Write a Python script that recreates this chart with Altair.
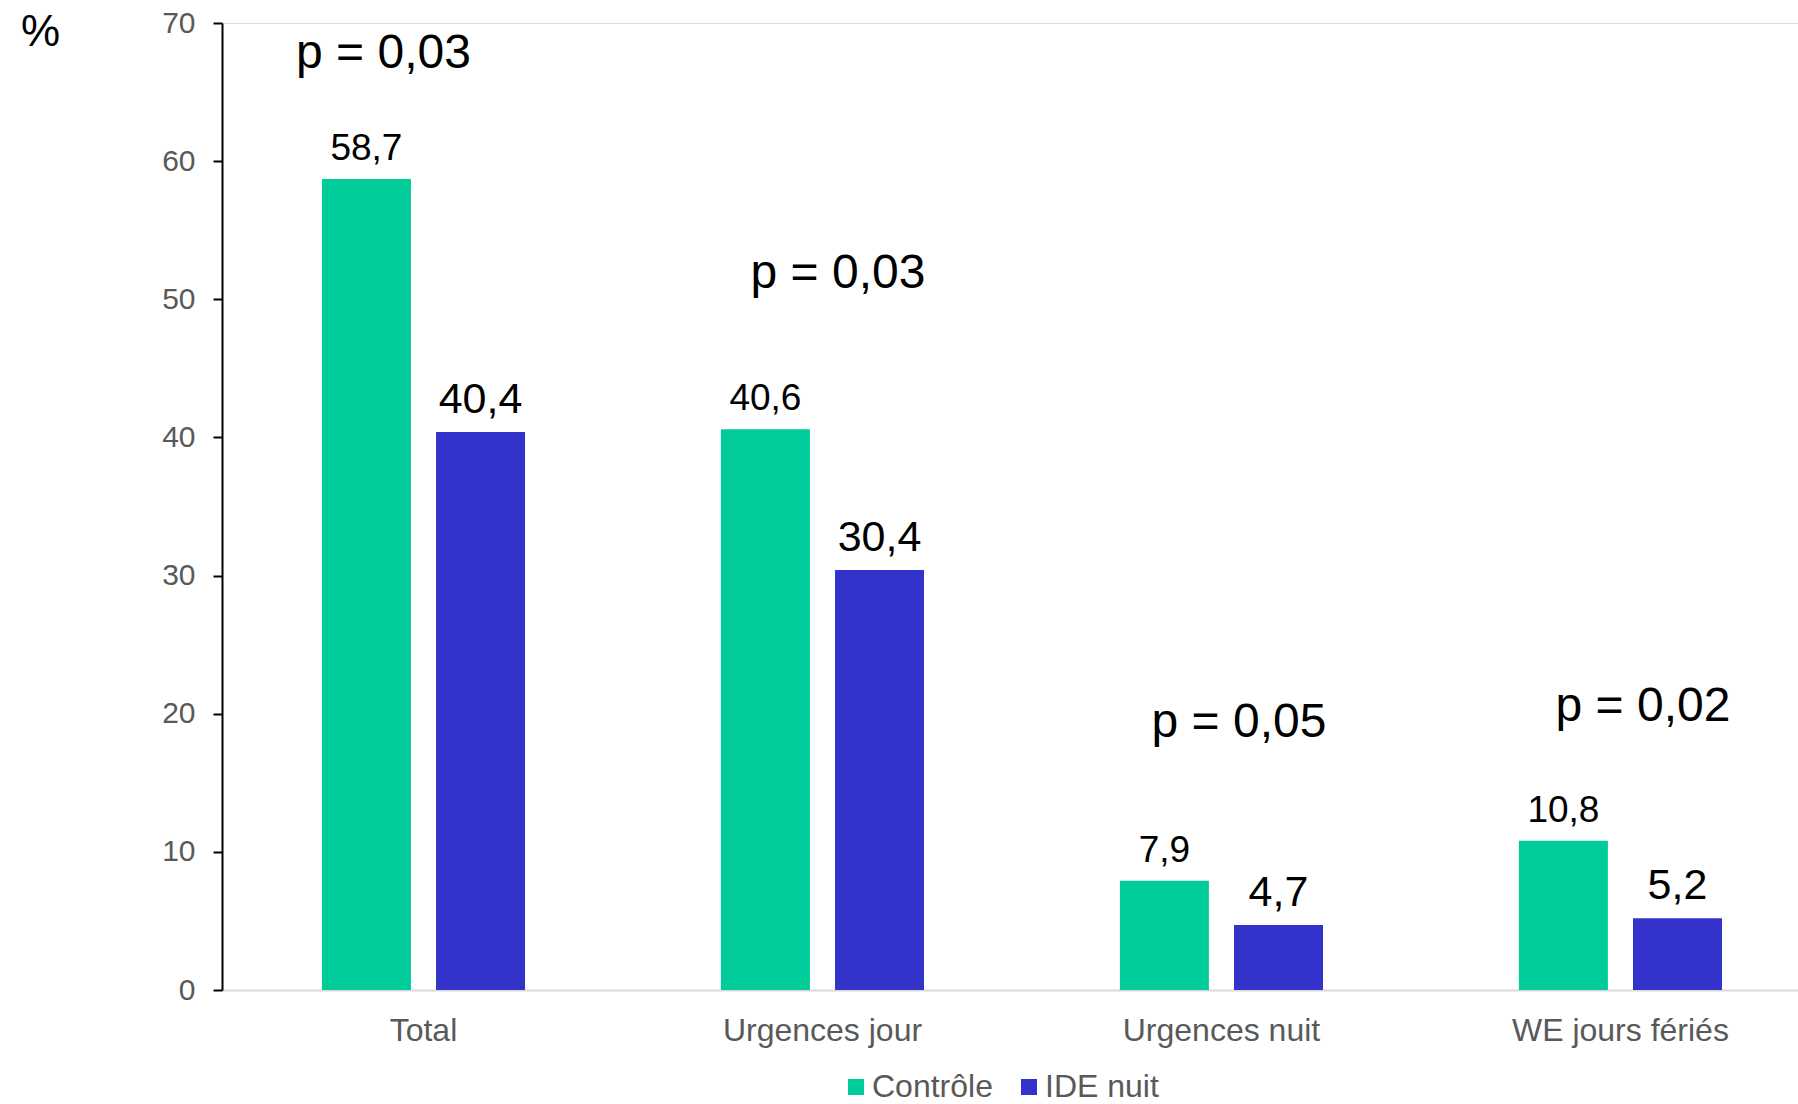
import altair as alt
import pandas as pd

# Data
categories = ["Total", "Urgences jour", "Urgences nuit", "WE jours fériés"]
groups = ["Contrôle", "IDE nuit"]
controle = [58.7, 40.6, 7.9, 10.8]
ide_nuit = [40.4, 30.4, 4.7, 5.2]
p_values = ["p = 0,03", "p = 0,03", "p = 0,05", "p = 0,02"]
colors = ["#00CC99", "#3333CC"]

rows = []
for cat, c, i in zip(categories, controle, ide_nuit):
    rows.append({"cat": cat, "group": groups[0], "value": c})
    rows.append({"cat": cat, "group": groups[1], "value": i})
df = pd.DataFrame(rows)
df["label"] = df["value"].map(lambda v: f"{v:.1f}".replace(".", ","))

FONT = "Liberation Sans"
PLOT_W, PLOT_H = 1576, 967

x_enc = alt.X(
    "cat:N",
    sort=categories,
    scale=alt.Scale(paddingInner=0.491, paddingOuter=0.2205, align=0.568),
    axis=alt.Axis(
        title=None,
        labelAngle=0,
        labelFontSize=32,
        labelColor="#595959",
        labelFont=FONT,
        labelPadding=25,
        labelLimit=0,
        ticks=False,
        domainColor="#D9D9D9",
        domainWidth=2,
    ),
)
xoff_enc = alt.XOffset("group:N", sort=groups, scale=alt.Scale(paddingInner=0.22, paddingOuter=0))
y_enc = alt.Y(
    "value:Q",
    scale=alt.Scale(domain=[0, 70], nice=False),
    axis=alt.Axis(
        title="%",
        titleAngle=0,
        titleFontSize=44,
        titleFontWeight="normal",
        titleColor="#000000",
        titleFont=FONT,
        titleX=-182,
        titleY=9,
        titleAlign="center",
        titleBaseline="middle",
        values=[0, 10, 20, 30, 40, 50, 60, 70],
        labelFontSize=30,
        labelColor="#595959",
        labelFont=FONT,
        labelPadding=18,
        tickSize=9,
        tickWidth=2,
        tickColor="#000000",
        domainColor="#000000",
        domainWidth=2,
        grid=False,
    ),
)

base = alt.Chart(df)

bars = base.mark_bar().encode(
    x=x_enc,
    xOffset=xoff_enc,
    y=y_enc,
    color=alt.Color(
        "group:N",
        sort=groups,
        scale=alt.Scale(domain=groups, range=colors),
        legend=alt.Legend(
            title=None,
            orient="none",
            legendX=618,
            legendY=1048,
            direction="horizontal",
            symbolType="square",
            symbolSize=256,
            symbolStrokeWidth=0,
            labelFontSize=32,
            labelColor="#595959",
            labelFont=FONT,
            labelOffset=0,
            columnPadding=20,
            padding=0,
        ),
    ),
)

labels_ctrl = base.transform_filter(alt.datum.group == groups[0]).mark_text(
    font=FONT, fontSize=37, color="#000000", baseline="alphabetic", dy=-19
).encode(x=x_enc, xOffset=xoff_enc, y=y_enc, text="label:N")

labels_ide = base.transform_filter(alt.datum.group == groups[1]).mark_text(
    font=FONT, fontSize=43, color="#000000", baseline="alphabetic", dy=-19
).encode(x=x_enc, xOffset=xoff_enc, y=y_enc, text="label:N")

# p-value annotations: pixel y within the plot and horizontal shift from group centre
p_layout = [(31, -40), (251, 15.5), (700, 17.5), (684, 22.5)]
p_layers = []
for cat, ptxt, (py, pdx) in zip(categories, p_values, p_layout):
    p_df = pd.DataFrame({"cat": [cat], "ptxt": [ptxt]})
    p_layers.append(
        alt.Chart(p_df)
        .mark_text(font=FONT, fontSize=48, color="#000000", baseline="middle", align="center", dx=pdx)
        .encode(x=alt.X("cat:N", sort=categories), y=alt.value(py), text="ptxt:N")
    )

chart = (
    alt.layer(bars, labels_ctrl, labels_ide, *p_layers)
    .properties(
        width=PLOT_W,
        height=PLOT_H,
        autosize=alt.AutoSizeParams(type="none"),
        padding={"left": 222, "top": 23, "right": 0, "bottom": 114},
    )
    .configure_view(stroke=None)
    .configure(background="white")
)

chart.save("out.html", embed_options={"renderer": "svg", "actions": False})
